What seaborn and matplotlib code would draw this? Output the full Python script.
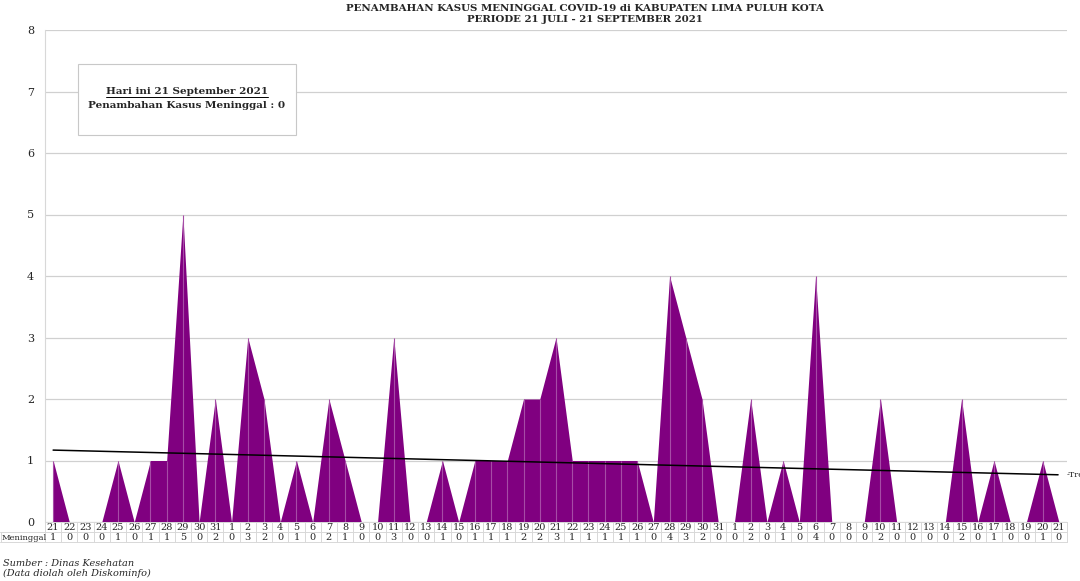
import numpy as np
import pandas as pd
import matplotlib
matplotlib.use("Agg")
import matplotlib.pyplot as plt
import seaborn as sns

# ---- data ----
days = [21, 22, 23, 24, 25, 26, 27, 28, 29, 30, 31,
        1, 2, 3, 4, 5, 6, 7, 8, 9, 10, 11, 12, 13, 14, 15, 16, 17, 18, 19, 20,
        21, 22, 23, 24, 25, 26, 27, 28, 29, 30, 31,
        1, 2, 3, 4, 5, 6, 7, 8, 9, 10, 11, 12, 13, 14, 15, 16, 17, 18, 19, 20, 21]
meninggal = [1, 0, 0, 0, 1, 0, 1, 1, 5, 0, 2,
             0, 3, 2, 0, 1, 0, 2, 1, 0, 0, 3, 0, 0, 1, 0, 1, 1, 1, 2, 2,
             3, 1, 1, 1, 1, 1, 0, 4, 3, 2, 0,
             0, 2, 0, 1, 0, 4, 0, 0, 0, 2, 0, 0, 0, 0, 2, 0, 1, 0, 0, 1, 0]
yticks = [0, 1, 2, 3, 4, 5, 6, 7, 8]
title = "PENAMBAHAN KASUS MENINGGAL COVID-19 di KABUPATEN LIMA PULUH KOTA\nPERIODE 21 JULI - 21 SEPTEMBER 2021"
box_line1 = "Hari ini 21 September 2021"
box_line2 = "Penambahan Kasus Meninggal : 0"
row_label = "Meninggal"
source1 = "Sumber : Dinas Kesehatan"
source2 = "(Data diolah oleh Diskominfo)"

df = pd.DataFrame({"idx": np.arange(len(meninggal)), "val": meninggal})

sns.set_style("white")
plt.rcParams['font.family'] = ['DejaVu Serif']

W, H = 1080, 581
fig = plt.figure(figsize=(W / 100, H / 100), dpi=100)
L, R, T, B = 45, 1067, 30, 522
ax = fig.add_axes([L / W, 1 - B / H, (R - L) / W, (B - T) / H])

purple = "#800080"
ax.fill_between(df["idx"], 0, df["val"], color=purple, linewidth=0, zorder=2)
ax.vlines(df["idx"], 0, df["val"], color="#a64ca6", linewidth=0.8, zorder=3)

# trend line
coef = np.polyfit(df["idx"], df["val"], 1)
xs = np.array([0, len(meninggal) - 1.05])
sns.lineplot(x=xs, y=np.polyval(coef, xs), color="black", linewidth=1.1, ax=ax, zorder=4)
ax.text(len(meninggal) - 0.55, np.polyval(coef, xs[-1]), "-Trendline", fontsize=6,
        va="center", ha="left", clip_on=False)

ax.set_xlim(-0.5, len(meninggal) - 0.5)
ax.set_ylim(0, 8)
ax.set_yticks(yticks)
ax.set_yticklabels([str(v) for v in yticks], fontsize=8)
ax.tick_params(axis="y", length=0, pad=8)
ax.set_xticks([])
ax.grid(axis="y", color="#d0d0d0", linewidth=0.9, zorder=0)
for s in ["top", "right", "bottom"]:
    ax.spines[s].set_visible(False)
ax.spines["left"].set_color("#d8d8d8")
ax.spines["left"].set_linewidth(0.8)

# data table
ph = B - T
def ay(py):
    return -(py - B) / ph

trans = matplotlib.transforms.blended_transform_factory(ax.transData, ax.transAxes)
n = len(meninggal)
for i, (d, v) in enumerate(zip(days, meninggal)):
    ax.text(i, ay(527), str(d), transform=trans, ha="center", va="center", fontsize=7, clip_on=False)
    ax.text(i, ay(537.5), str(v), transform=trans, ha="center", va="center", fontsize=7, clip_on=False)
grid_c = "#d8d8d8"
for i in range(n + 1):
    ax.plot([i - 0.5, i - 0.5], [ay(522), ay(542)], transform=trans, color=grid_c, lw=0.7, clip_on=False)
for py in [522, 532, 542]:
    ax.plot([-0.5, n - 0.5], [ay(py), ay(py)], transform=trans, color=grid_c, lw=0.7, clip_on=False)
fig.add_artist(plt.Line2D([0, L / W], [1 - 532 / H, 1 - 532 / H], color=grid_c, lw=0.7))
fig.add_artist(plt.Line2D([0, L / W], [1 - 542 / H, 1 - 542 / H], color=grid_c, lw=0.7))
fig.add_artist(plt.Line2D([1 / W, 1 / W], [1 - 542 / H, 1 - 532 / H], color=grid_c, lw=0.7))
fig.text(2 / W, 1 - 537.5 / H, row_label, fontsize=6, ha="left", va="center")

# title
fig.text(585 / W, 1 - 14 / H, title, fontsize=7.4, fontweight="bold", ha="center", va="center",
         linespacing=1.2)

# annotation box
bx0, by0, bx1, by1 = 78, 64, 296, 135
fig.add_artist(plt.Rectangle((bx0 / W, 1 - by1 / H), (bx1 - bx0) / W, (by1 - by0) / H,
                             facecolor="white", edgecolor="#c8c8c8", lw=0.8, zorder=5))
t1 = fig.text(187 / W, 1 - 92 / H, box_line1, fontsize=7.5, fontweight="bold", ha="center",
              va="center", zorder=6)
fig.text(187 / W, 1 - 106 / H, box_line2, fontsize=7.5, fontweight="bold", ha="center",
         va="center", zorder=6)
fig.canvas.draw()
bb = t1.get_window_extent()
uy = bb.y0 - 0.5
fig.add_artist(plt.Line2D([bb.x0 / W, bb.x1 / W], [uy / H, uy / H], color="black", lw=0.7, zorder=6))

# source
fig.text(3 / W, 1 - 563 / H, source1, fontsize=7, style="italic", ha="left", va="center")
fig.text(3 / W, 1 - 573.5 / H, source2, fontsize=7, style="italic", ha="left", va="center")

fig.savefig("out.png", dpi=100, facecolor="white")
